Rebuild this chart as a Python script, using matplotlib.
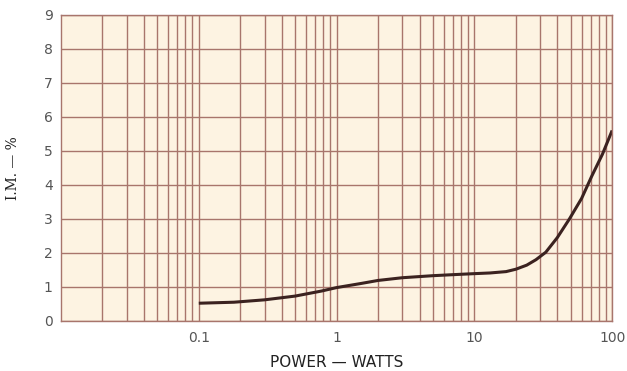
import numpy as np
import matplotlib
matplotlib.use("Agg")
import matplotlib.pyplot as plt
from matplotlib.ticker import LogLocator, FixedLocator, FixedFormatter, NullFormatter

# values
power_w = [0.1, 0.18, 0.3, 0.5, 0.78, 1, 1.5, 2, 3, 5, 7, 10, 13, 17, 20, 24, 28, 33, 40, 49, 60, 71, 85, 100]
im_pct = [0.52, 0.55, 0.62, 0.73, 0.88, 0.98, 1.1, 1.19, 1.27, 1.33, 1.36, 1.39, 1.41, 1.45, 1.52, 1.64, 1.8, 2.02, 2.45, 3.0, 3.6, 4.25, 4.9, 5.6]

x_ticks = [0.1, 1, 10, 100]
x_ticklabels = ["0.1", "1", "10", "100"]
y_ticks = list(range(0, 10))

grid_col = "#a8756c"
paper = "#fdf3e2"

fig = plt.figure(figsize=(6.27, 3.71), dpi=100)
ax = fig.add_axes([0.0973, 0.135, 0.879, 0.825])
ax.set_facecolor(paper)

ax.plot(power_w, im_pct, color="#3b2220", lw=2.2, solid_capstyle="butt")

ax.set_xscale("log")
ax.set_xlim(0.01, 100)
ax.set_ylim(0, 9)

ax.xaxis.set_major_locator(FixedLocator(x_ticks))
ax.xaxis.set_major_formatter(FixedFormatter(x_ticklabels))
ax.xaxis.set_minor_locator(LogLocator(base=10, subs=np.arange(2, 10)))
ax.xaxis.set_minor_formatter(NullFormatter())
ax.set_yticks(y_ticks)

ax.grid(True, which="both", axis="x", color=grid_col, lw=1.0)
ax.grid(True, which="major", axis="y", color=grid_col, lw=1.0)
ax.set_axisbelow(True)

for s in ax.spines.values():
    s.set_color(grid_col)
    s.set_linewidth(1.0)

ax.tick_params(axis="both", which="both", length=0, labelsize=10, labelcolor="#555555")
ax.tick_params(axis="x", pad=7)
ax.tick_params(axis="y", pad=6)

ax.set_xlabel("POWER \u2014 WATTS", fontsize=11, color="#222222", va="center")
ax.xaxis.set_label_coords(0.5, -0.137)
ax.set_ylabel("I.M. \u2014 %", fontsize=10, color="#222222", family="DejaVu Serif")
ax.yaxis.set_label_coords(-0.075, 0.5)

plt.savefig("out.png", dpi=100)
